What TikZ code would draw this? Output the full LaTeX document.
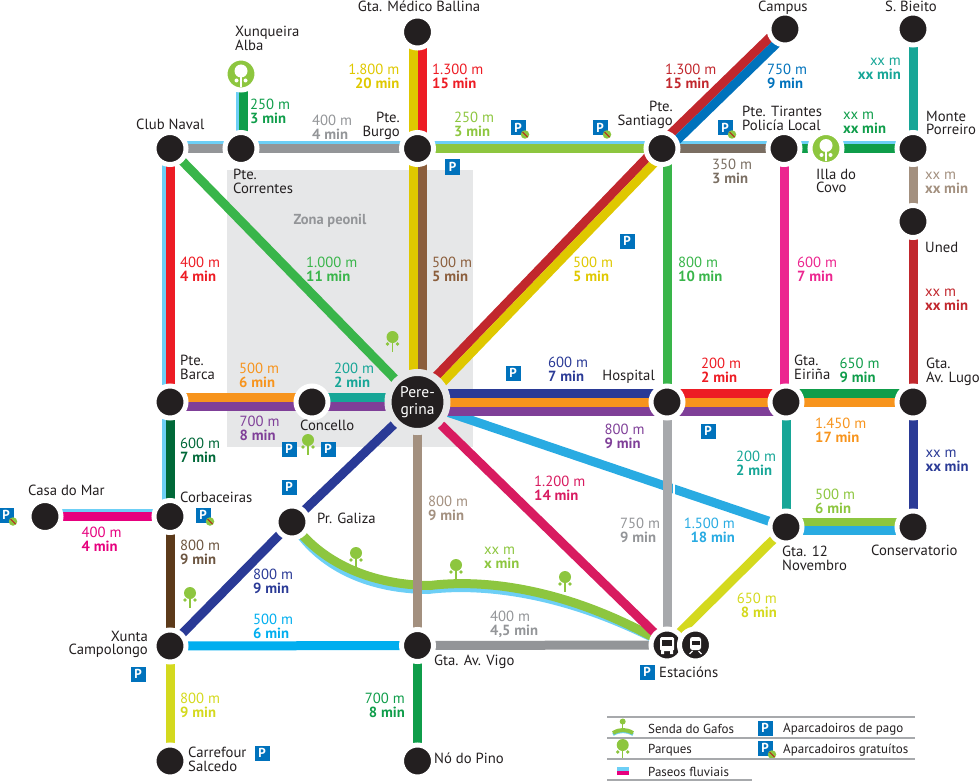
\documentclass[tikz,border=0pt]{standalone}
\usepackage{fontspec}
\setmainfont{PT Sans}
\usetikzlibrary{
  	calc,
  	positioning,
  	backgrounds
  }
\definecolor{negro}{HTML}{231F20}
\definecolor{zona}{HTML}{E6E7E8}
\definecolor{ceo}{HTML}{6DCFF6}
\definecolor{azulp}{HTML}{0072BC}
\definecolor{lima}{HTML}{8DC63F}
\definecolor{gris}{HTML}{939598}
\definecolor{grisc}{HTML}{A7A9AC}
\definecolor{vermello}{HTML}{ED1C24}
\definecolor{granate}{HTML}{C1272D}
\definecolor{amarelo}{HTML}{DFC800}
\definecolor{marron}{HTML}{8B5E3C}
\definecolor{marrond}{HTML}{5C3A1A}
\definecolor{verde}{HTML}{39B54A}
\definecolor{verdee}{HTML}{0F9D4A}
\definecolor{verdeo}{HTML}{006838}
\definecolor{teal}{HTML}{17A697}
\definecolor{taupe}{HTML}{A3907F}
\definecolor{taupeo}{HTML}{7A6E62}
\definecolor{rosa}{HTML}{EC268F}
\definecolor{fucsia}{HTML}{E6007E}
\definecolor{carmin}{HTML}{D81B60}
\definecolor{laranxa}{HTML}{F7941D}
\definecolor{morado}{HTML}{7F3F98}
\definecolor{marino}{HTML}{2A3A96}
\definecolor{celeste}{HTML}{29ABE2}
\definecolor{cian}{HTML}{00AEEF}
\definecolor{limon}{HTML}{D4D91E}
\tikzstyle{parada}=[circle,fill=negro,draw=white,line width=5pt,minimum size=32pt,inner sep=0pt,outer sep=0pt]
\tikzstyle{parque}=[parada,fill=lima]
\tikzstyle{tramo}=[line width=9pt]
\tikzstyle{fluvial}=[line width=3.4pt,ceo]
\tikzstyle{rotulo}=[font=\fontsize{14.7}{13.5}\selectfont,inner sep=0pt,align=left,anchor=north west,text=negro,yshift=-1pt]
\tikzstyle{rotulod}=[rotulo,align=right,anchor=north east]
\tikzstyle{pago}=[fill=azulp,text=white,font=\fontsize{13}{13}\selectfont\bfseries,minimum size=15pt,inner sep=0pt]
\tikzstyle{veto}=[circle,fill=lima,minimum size=8.5pt,inner sep=0pt]
\tikzstyle{lenda}=[rotulo,font=\fontsize{13}{13}\selectfont,anchor=west]
\tikzset{arbore/.pic={
    \fill[lima] (0,0) circle (6pt);
    \draw[lima,line width=1.5pt] (0,0) -- (0,15);
    \fill[lima] (-5,7) circle (1.8pt) (5,7) circle (1.8pt);
  }}
% tramo con desprazamento perpendicular
\newcommand{\tramo}[4][0]{\draw[tramo,#2] ($(#3.center)!#1pt!90:(#4.center)$) -- ($(#4.center)!#1pt!-90:(#3.center)$);}
\newcommand{\rio}[3][6]{\draw[fluvial] ($(#2.center)!#1pt!90:(#3.center)$) -- ($(#3.center)!#1pt!-90:(#2.center)$);}

\begin{document}
\begin{tikzpicture}[x=1pt,y=-1pt]
  \useasboundingbox (0,0) rectangle (980,781);
  % paradas
  \foreach \nome/\x/\y in {club/170/148.5, correntes/241/148.5, burgo/417.5/148.5, santiago/662/148.5,
      tirantes/784/148.5, monte/913/148.5, campus/785/29, bieito/913/29, medico/417.5/32, uned/913/221.5,
      barca/170/402, concello/312/402, hospital/667/402, eirina/786/402, lugo/913/402,
      casa/45/516.5, corbaceiras/170/516.5, galiza/292/522, xunta/170/646, vigo/417.5/645.5,
      carrefour/170/761, pino/417.5/761, novembro/786/527, conservatorio/913/527, bus/667/645}
    \node[parada] (\nome) at (\x,\y) {};
  \node[parada,fill=negro,draw=zona,line width=7pt,minimum size=59pt,text=white,align=center,
      font=\fontsize{15.5}{16.5}\selectfont] (peregrina) at (417.5,402) {Pere-\\grina};
  \node[parada] (tren) at (695.5,645) {};
  \node[parque] (xunqueira) at (241,74) {};
  \node[parque] (illa) at (826,148.5) {};

  \begin{scope}[on background layer]
    \fill[zona] (226.5,170) rectangle (472.5,447);
    % rio
    \rio{club}{correntes}
    \rio{correntes}{burgo}
    \rio{burgo}{santiago}
    \rio{santiago}{tirantes}
    \rio{tirantes}{illa}
    \rio{illa}{monte}
    \rio[-3.5]{xunqueira}{correntes}
    \rio[-6]{club}{barca}
    \rio[-6]{barca}{corbaceiras}
    \rio{casa}{corbaceiras}
    % fila superior
    \tramo{gris}{club}{correntes}
    \tramo{gris}{correntes}{burgo}
    \tramo{lima}{burgo}{santiago}
    \tramo{taupeo}{santiago}{tirantes}
    \tramo{verdee}{tirantes}{illa}
    \tramo{verdee}{illa}{monte}
    \tramo[2.5]{verdee}{xunqueira}{correntes}
    \tramo[4.5]{vermello}{medico}{burgo}
    \tramo[-4.5]{amarelo}{medico}{burgo}
    \tramo[4.5]{marron}{burgo}{peregrina}
    \tramo[-4.5]{amarelo}{burgo}{peregrina}
    % diagonais
    \tramo{verde}{club}{peregrina}
    \tramo[4.5]{granate}{peregrina}{santiago}
    \tramo[-4.5]{amarelo}{peregrina}{santiago}
    \tramo[4.5]{granate}{santiago}{campus}
    \tramo[-4.5]{azulp}{santiago}{campus}
    % verticais
    \draw[tramo,verde] (hospital.center |- santiago.center) -- (hospital.center);
    \draw[tramo,rosa] (tirantes.center) -- (tirantes.center |- eirina.center);
    \tramo{teal}{bieito}{monte}
    \tramo{taupe}{monte}{uned}
    \tramo{granate}{uned}{lugo}
    \tramo{marino}{lugo}{conservatorio}
    \tramo{teal}{eirina}{novembro}
    \tramo{vermello}{club}{barca}
    \tramo{verdeo}{barca}{corbaceiras}
    \tramo{marrond}{corbaceiras}{xunta}
    \tramo{limon}{xunta}{carrefour}
    \tramo{verdee}{vigo}{pino}
    % eixo central
    \tramo[4.5]{laranxa}{barca}{concello}
    \tramo[-4.5]{morado}{barca}{concello}
    \tramo[4.5]{teal}{concello}{peregrina}
    \tramo[-4.5]{morado}{concello}{peregrina}
    \tramo{celeste}{peregrina}{novembro}
    \draw[white,line width=2.2pt] ([shift={(7,76)}]hospital.center) -- ([shift={(7,98)}]hospital.center);
    \tramo{grisc}{hospital}{bus}
    \tramo[9]{marino}{peregrina}{hospital}
    \tramo{laranxa}{peregrina}{hospital}
    \tramo[-9]{morado}{peregrina}{hospital}
    \tramo[9]{vermello}{hospital}{eirina}
    \tramo{laranxa}{hospital}{eirina}
    \tramo[-9]{morado}{hospital}{eirina}
    \tramo[8.5]{verdee}{eirina}{lugo}
    \tramo{laranxa}{eirina}{lugo}
    \tramo[5]{lima}{novembro}{conservatorio}
    \tramo[-3.5]{celeste}{novembro}{conservatorio}
    % sur
    \tramo{fucsia}{casa}{corbaceiras}
    \tramo{marino}{xunta}{galiza}
    \tramo{marino}{galiza}{peregrina}
    \tramo{cian}{xunta}{vigo}
    \tramo{gris}{vigo}{bus}
    % senda do gafos
    \draw[tramo,ceo,shift={(-2,4)}] (galiza.center) .. controls (320,562) and (370,585) .. (430,585.5)
      .. controls (475,580) and (560,583) .. (bus.center);
    \draw[tramo,lima] (galiza.center) .. controls (320,562) and (370,585) .. (430,585.5)
      .. controls (475,580) and (560,583) .. (bus.center);
    \tramo{taupe}{peregrina}{vigo}
    \tramo{carmin}{peregrina}{bus}
    \tramo{limon}{novembro}{bus}
  \end{scope}

  % parques
  \foreach \nodo in {xunqueira,illa}{
    \fill[white] ([yshift=3pt]\nodo.center) circle (6.5pt);
    \draw[white,line width=1.5pt] (\nodo.center) -- ([yshift=-13pt]\nodo.center);
    \fill[white] ([yshift=-6.5pt,xshift=-4.5pt]\nodo.center) circle (2pt) ([yshift=-6.5pt,xshift=4.5pt]\nodo.center) circle (2pt);
  }
  % autobus e tren
  \fill[white,rounded corners=1.5pt] ([shift={(-7,-8)}]bus.center) rectangle ([shift={(7,6)}]bus.center);
  \fill[negro] ([shift={(-5,-5)}]bus.center) rectangle ([shift={(5,1)}]bus.center);
  \fill[white] ([shift={(-6,6)}]bus.center) rectangle ([shift={(-3,9)}]bus.center)
    ([shift={(3,6)}]bus.center) rectangle ([shift={(6,9)}]bus.center);
  \fill[white,rounded corners=2.5pt] ([shift={(-5.5,-8)}]tren.center) rectangle ([shift={(5.5,5)}]tren.center);
  \fill[negro] ([shift={(-4,-4)}]tren.center) rectangle ([shift={(4,0)}]tren.center);
  \draw[white,line width=1.3pt] ([shift={(-6,9)}]tren.center) -- ([shift={(-3,6)}]tren.center)
    ([shift={(6,9)}]tren.center) -- ([shift={(3,6)}]tren.center);

  % arbores
  \foreach \x/\y in {356/553, 456/565, 565/577, 308/440, 392.5/337, 190/593, 622.7/745}
    \pic at (\x,\y) {arbore};

  % aparcadoiros
  \foreach \n/\x/\y in {a/452.5/167, b/627/241, c/513/373, d/708/431, e/289/449, f/328/449, g/289/487,
      h/138/674, i/262/753, k/647/672, l/765/728}
    \node[pago] (p\n) at (\x,\y) {P};
  \foreach \n/\x/\y in {a/518/128, b/600/128, c/725/128, d/203/515, e/6/515, f/765/748}{
    \node[pago] (q\n) at (\x,\y) {P};
    \node[veto] (v\n) at ([shift={(7,6.5)}]q\n.center) {};
    \draw[vermello!80!black,line width=1pt] ([shift={(-2.5,-2.5)}]v\n.center) -- ([shift={(2.5,2.5)}]v\n.center);
  }

  % nomes
  \node[rotulo,anchor=north] (lmedico) at (419,0) {Gta. Médico Ballina};
  \node[rotulo] (lxunqueira) at (235,25) {Xunqueira\\Alba};
  \node[rotulo] (lclub) at (136,118) {Club Naval};
  \node[rotulo] (lcorrentes) at (233,168) {Pte.\\Correntes};
  \node[rotulod] (lburgo) at (400,111) {Pte.\\Burgo};
  \node[rotulod] (lsantiago) at (673,100) {Pte.\\Santiago};
  \node[rotulo] (ltirantes) at (742,105) {Pte. Tirantes\\Policía Local};
  \node[rotulo] (lilla) at (816,168) {Illa do\\Covo};
  \node[rotulo] (lcampus) at (758,0) {Campus};
  \node[rotulo] (lbieito) at (885,0) {S. Bieito};
  \node[rotulo] (lmonte) at (926,110) {Monte\\Porreiro};
  \node[rotulo] (luned) at (925,241) {Uned};
  \node[rotulo] (lbarca) at (180,354) {Pte.\\Barca};
  \node[rotulo] (lconcello) at (300,419) {Concello};
  \node[rotulod] (lhospital) at (655,369) {Hospital};
  \node[rotulo] (leirina) at (794,354) {Gta.\\Eiriña};
  \node[rotulo] (llugo) at (926,357) {Gta.\\Av. Lugo};
  \node[rotulo] (lcasa) at (28,484) {Casa do Mar};
  \node[rotulo] (lcorbaceiras) at (180,491) {Corbaceiras};
  \node[rotulo] (lgaliza) at (317,512) {Pr. Galiza};
  \node[rotulo] (lnovembro) at (782,545) {Gta. 12\\Novembro};
  \node[rotulo] (lconservatorio) at (871,544) {Conservatorio};
  \node[rotulod] (lxunta) at (148,630) {Xunta\\Campolongo};
  \node[rotulo] (lvigo) at (434,654) {Gta. Av. Vigo};
  \node[rotulo] (lcarrefour) at (188,746) {Carrefour\\Salcedo};
  \node[rotulo] (lpino) at (434,752) {Nó do Pino};
  \node[rotulo] (lestacions) at (659,666) {Estacións};
  \node[rotulo,text=gris,font=\fontsize{14.5}{15}\selectfont\bfseries,anchor=center] (lzona) at (330,220) {Zona peonil};

  % distancias
  \node[rotulo,text=verdee] (d01) at (250,98) {250 m\\\textbf{3 min}};
  \node[rotulo,text=gris] (d02) at (312,114) {400 m\\\textbf{4 min}};
  \node[rotulod,text=amarelo] (d03) at (399.5,63) {1.800 m\\\textbf{20 min}};
  \node[rotulo,text=vermello] (d04) at (432,63) {1.300 m\\\textbf{15 min}};
  \node[rotulo,text=lima] (d05) at (454,111) {250 m\\\textbf{3 min}};
  \node[rotulo,text=granate] (d06) at (665,63) {1.300 m\\\textbf{15 min}};
  \node[rotulo,text=azulp] (d07) at (767,63) {750 m\\\textbf{9 min}};
  \node[rotulod,text=teal] (d08) at (901,57) {xx m\\\textbf{xx min}};
  \node[rotulo,text=verdee] (d09) at (843,111) {xx m\\\textbf{xx min}};
  \node[rotulo,text=taupeo] (d10) at (712,158) {350 m\\\textbf{3 min}};
  \node[rotulo,text=taupe] (d11) at (925,171) {xx m\\\textbf{xx min}};
  \node[rotulo,text=vermello] (d12) at (180,256) {400 m\\\textbf{4 min}};
  \node[rotulo,text=verde] (d13) at (306,256) {1.000 m\\\textbf{11 min}};
  \node[rotulo,text=marron] (d14) at (432,256) {500 m\\\textbf{5 min}};
  \node[rotulo,text=amarelo] (d15) at (573,256) {500 m\\\textbf{5 min}};
  \node[rotulo,text=verde] (d16) at (678,256) {800 m\\\textbf{10 min}};
  \node[rotulo,text=rosa] (d17) at (797,256) {600 m\\\textbf{7 min}};
  \node[rotulo,text=granate] (d18) at (925,288) {xx m\\\textbf{xx min}};
  \node[rotulo,text=laranxa] (d19) at (239,362) {500 m\\\textbf{6 min}};
  \node[rotulo,text=teal] (d20) at (334,362) {200 m\\\textbf{2 min}};
  \node[rotulo,text=marino] (d21) at (548,356) {600 m\\\textbf{7 min}};
  \node[rotulo,text=vermello] (d22) at (701,357) {200 m\\\textbf{2 min}};
  \node[rotulo,text=verdee] (d23) at (839.5,357) {650 m\\\textbf{9 min}};
  \node[rotulo,text=morado] (d24) at (239.5,415) {700 m\\\textbf{8 min}};
  \node[rotulo,text=morado] (d25) at (604.5,423) {800 m\\\textbf{9 min}};
  \node[rotulo,text=laranxa] (d26) at (815,417) {1.450 m\\\textbf{17 min}};
  \node[rotulo,text=verdeo] (d27) at (180,437) {600 m\\\textbf{7 min}};
  \node[rotulo,text=taupe] (d28) at (428,495) {800 m\\\textbf{9 min}};
  \node[rotulo,text=carmin] (d29) at (534,475) {1.200 m\\\textbf{14 min}};
  \node[rotulo,text=teal] (d30) at (736,450) {200 m\\\textbf{2 min}};
  \node[rotulo,text=marino] (d31) at (925.5,449) {xx m\\\textbf{xx min}};
  \node[rotulo,text=lima] (d32) at (815,488) {500 m\\\textbf{6 min}};
  \node[rotulo,text=gris] (d33) at (620,517) {750 m\\\textbf{9 min}};
  \node[rotulod,text=celeste] (d34) at (735,517) {1.500 m\\\textbf{18 min}};
  \node[rotulo,text=fucsia] (d35) at (81.5,526) {400 m\\\textbf{4 min}};
  \node[rotulo,text=marrond!70!gris] (d36) at (180,539) {800 m\\\textbf{9 min}};
  \node[rotulo,text=marino] (d37) at (253,568) {800 m\\\textbf{9 min}};
  \node[rotulo,text=cian] (d38) at (253,613) {500 m\\\textbf{6 min}};
  \node[rotulo,text=lima] (d39) at (484,546) {xx m\\\textbf{x min}};
  \node[rotulo,text=gris] (d40) at (490,610) {400 m\\\textbf{4,5 min}};
  \node[rotulod,text=limon] (d41) at (777,592) {650 m\\\textbf{8 min}};
  \node[rotulo,text=limon] (d42) at (180,692) {800 m\\\textbf{9 min}};
  \node[rotulod,text=verdee] (d43) at (405,692) {700 m\\\textbf{8 min}};

  % lenda
  \draw[grisc,line width=1.2pt] (607,717) -- (915,717) (607,738) -- (915,738) (607,759) -- (915,759) (607,780) -- (752,780);
  \draw[ceo,line width=3pt,shift={(0,1.5)}] (613,733) .. controls (620,729) and (626,729) .. (633,733);
  \draw[lima,line width=4pt] (613,733) .. controls (620,729) and (626,729) .. (633,733);
  \fill[lima] (622.7,721.5) circle (3pt);
  \draw[lima,line width=1.2pt] (622.7,721.5) -- (622.7,730);
  \fill[ceo] (617,767) rectangle (629,770.5);
  \fill[fucsia] (617,770.5) rectangle (629,775);
  \node[lenda] (lsenda) at (648,728) {Senda do Gafos};
  \node[lenda] (lparques) at (648,749) {Parques};
  \node[lenda] (lpaseos) at (648,771) {Paseos fluviais};
  \node[lenda] (lpago) at (783,728) {Aparcadoiros de pago};
  \node[lenda] (lgratis) at (783,749) {Aparcadoiros gratuítos};
\end{tikzpicture}
\end{document}
